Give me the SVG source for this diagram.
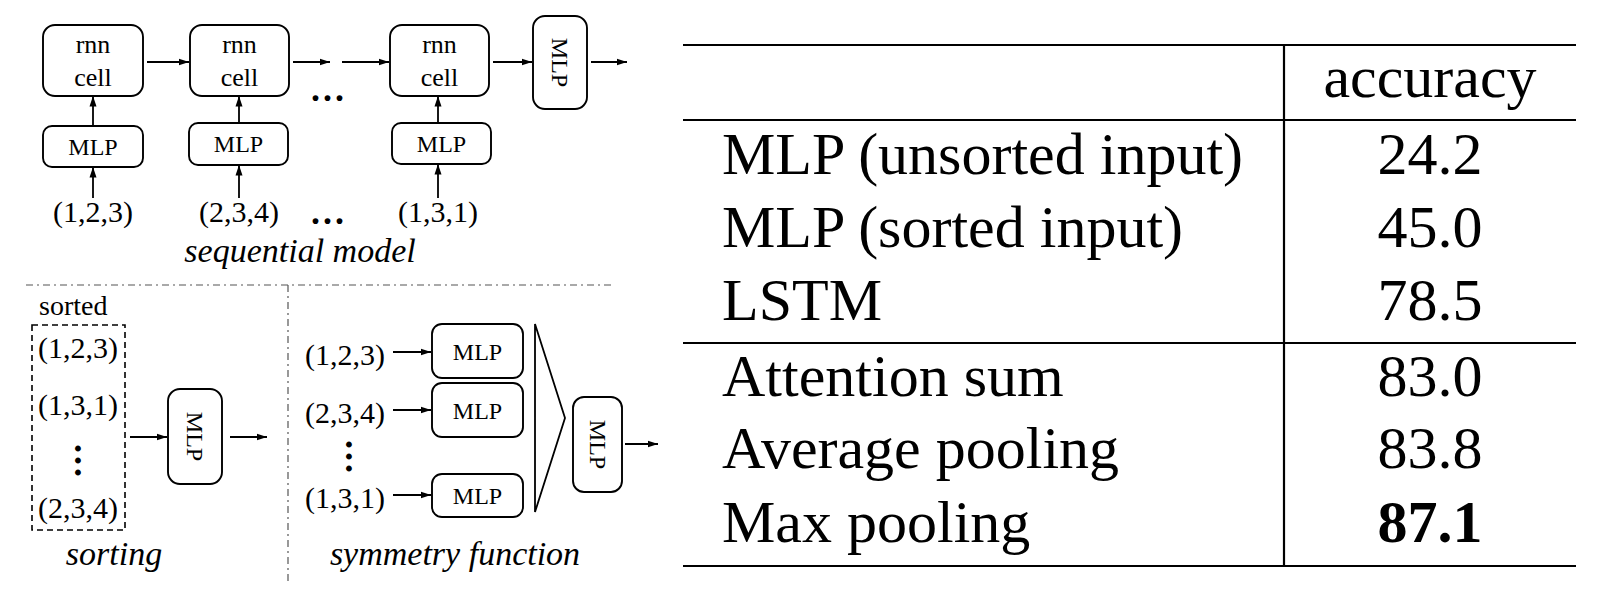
<svg xmlns="http://www.w3.org/2000/svg" width="1604" height="593" viewBox="0 0 1604 593">
<defs>
<marker id="ah" markerUnits="userSpaceOnUse" markerWidth="11" markerHeight="8" refX="10.5" refY="4" orient="auto">
<path d="M0,0.5 L10.5,4 L0,7.5 z" fill="#000"/>
</marker>
</defs>
<style>
.bx{fill:#fff;stroke:#000;stroke-width:1.9}
.t{font-family:"Liberation Serif","Times New Roman",serif;fill:#000}
.m{font-size:24px}
.r{font-size:26px}
.in{font-size:30px}
.cap{font-size:34px;font-style:italic}
.dots{font-size:36px;font-weight:bold;letter-spacing:3px}
.tb{font-size:60px}
.ar{stroke:#000;stroke-width:1.8;fill:none;marker-end:url(#ah)}
.sep{stroke:#555;stroke-width:1.2;fill:none;stroke-dasharray:7 4 2 4}
.rule{stroke:#000;stroke-width:2.2}
</style>
<rect width="1604" height="593" fill="#fff"/>

<!-- sequential model -->
<g id="rnn1"><rect class="bx" x="43" y="25" width="100" height="71" rx="12"/><text class="t r" x="93" y="53" text-anchor="middle">rnn</text><text class="t r" x="93" y="86" text-anchor="middle">cell</text></g>
<g id="rnn2"><rect class="bx" x="190" y="25" width="99" height="71" rx="12"/><text class="t r" x="239.5" y="53" text-anchor="middle">rnn</text><text class="t r" x="239.5" y="86" text-anchor="middle">cell</text></g>
<g id="rnn3"><rect class="bx" x="390" y="25" width="99" height="71" rx="12"/><text class="t r" x="439.5" y="53" text-anchor="middle">rnn</text><text class="t r" x="439.5" y="86" text-anchor="middle">cell</text></g>
<g id="mlp-top-out"><rect class="bx" x="533" y="16" width="54" height="93" rx="12"/><text class="t m" transform="translate(552,62.5) rotate(90)" text-anchor="middle">MLP</text></g>
<g id="mlp-seq1"><rect class="bx" x="43" y="126" width="100" height="41" rx="9"/><text class="t m" x="93" y="155" text-anchor="middle">MLP</text></g>
<g id="mlp-seq2"><rect class="bx" x="189" y="123" width="99" height="42" rx="9"/><text class="t m" x="238.5" y="152" text-anchor="middle">MLP</text></g>
<g id="mlp-seq3"><rect class="bx" x="392" y="123" width="99" height="41" rx="9"/><text class="t m" x="441.5" y="152" text-anchor="middle">MLP</text></g>
<g id="in-seq1"><text class="t in" x="93" y="222" text-anchor="middle">(1,2,3)</text></g>
<g id="in-seq2"><text class="t in" x="239" y="222" text-anchor="middle">(2,3,4)</text></g>
<g id="in-seq3"><text class="t in" x="438" y="222" text-anchor="middle">(1,3,1)</text></g>
<g id="seq-dots"><text class="t dots" x="311" y="101">...</text><text class="t dots" x="311" y="224">...</text></g>
<g id="cap-seq"><text class="t cap" x="300" y="262" text-anchor="middle">sequential model</text></g>

<!-- separators -->
<g id="separators">
<path class="sep" d="M26,285 H614"/>
<path class="sep" d="M288,285 V583"/>
</g>

<!-- sorting -->
<g id="sorted-box">
<text class="t" style="font-size:28px" x="39" y="315">sorted</text>
<rect x="32" y="325" width="93" height="205" fill="none" stroke="#000" stroke-width="1.6" stroke-dasharray="6 4"/>
<text class="t in" x="38" y="358">(1,2,3)</text>
<text class="t in" x="38" y="415">(1,3,1)</text>
<text class="t dots" transform="translate(74.5,444) rotate(90)">...</text>
<text class="t in" x="38" y="518">(2,3,4)</text>
</g>
<g id="mlp-sort"><rect class="bx" x="168" y="389" width="54" height="95" rx="12"/><text class="t m" transform="translate(187,436.5) rotate(90)" text-anchor="middle">MLP</text></g>
<g id="cap-sort"><text class="t cap" x="114" y="565" text-anchor="middle">sorting</text></g>

<!-- symmetry -->
<g id="in-sym"><text class="t in" x="345" y="365" text-anchor="middle">(1,2,3)</text><text class="t in" x="345" y="423" text-anchor="middle">(2,3,4)</text><text class="t dots" transform="translate(345.5,440) rotate(90)">...</text><text class="t in" x="345" y="508" text-anchor="middle">(1,3,1)</text></g>
<g id="mlp-sym1"><rect class="bx" x="432" y="324" width="91" height="54" rx="10"/><text class="t m" x="477.5" y="360" text-anchor="middle">MLP</text></g>
<g id="mlp-sym2"><rect class="bx" x="432" y="383" width="91" height="54" rx="10"/><text class="t m" x="477.5" y="419" text-anchor="middle">MLP</text></g>
<g id="mlp-sym3"><rect class="bx" x="432" y="474" width="91" height="43" rx="10"/><text class="t m" x="477.5" y="504" text-anchor="middle">MLP</text></g>
<g id="pool"><path d="M535,324 L565,418 L535,512 Z" fill="none" stroke="#000" stroke-width="1.8" stroke-linejoin="miter"/></g>
<g id="mlp-sym-out"><rect class="bx" x="573" y="397" width="49" height="95" rx="11"/><text class="t m" transform="translate(589.5,444.5) rotate(90)" text-anchor="middle">MLP</text></g>
<g id="cap-sym"><text class="t cap" x="455" y="565" text-anchor="middle">symmetry function</text></g>

<!-- connectors -->
<g id="connectors">
<path class="ar" d="M147,62 H189"/>
<path class="ar" d="M293,62 H330"/>
<path class="ar" d="M342,62 H389"/>
<path class="ar" d="M493,62 H532"/>
<path class="ar" d="M591,62 H627"/>
<path class="ar" d="M93,126 V96"/>
<path class="ar" d="M93,198 V167"/>
<path class="ar" d="M239,123 V96"/>
<path class="ar" d="M239,198 V165"/>
<path class="ar" d="M438,123 V96"/>
<path class="ar" d="M438,198 V164"/>
<path class="ar" d="M130,437 H167"/>
<path class="ar" d="M230,437 H267"/>
<path class="ar" d="M393,352 H431"/>
<path class="ar" d="M393,410 H431"/>
<path class="ar" d="M393,495 H431"/>
<path class="ar" d="M625,444 H658"/>
</g>

<!-- table -->
<g id="table">
<line class="rule" x1="683" y1="45" x2="1576" y2="45"/>
<line class="rule" x1="683" y1="120" x2="1576" y2="120"/>
<line class="rule" x1="683" y1="343" x2="1576" y2="343"/>
<line class="rule" x1="683" y1="566" x2="1576" y2="566"/>
<line class="rule" x1="1284" y1="45" x2="1284" y2="566"/>
<text class="t tb" x="1430" y="97" text-anchor="middle">accuracy</text>
<text class="t tb" x="722" y="174">MLP (unsorted input)</text>
<text class="t tb" x="722" y="247">MLP (sorted input)</text>
<text class="t tb" x="722" y="320">LSTM</text>
<text class="t tb" x="722" y="396">Attention sum</text>
<text class="t tb" x="722" y="468">Average pooling</text>
<text class="t tb" x="722" y="542">Max pooling</text>
<text class="t tb" x="1430" y="174" text-anchor="middle">24.2</text>
<text class="t tb" x="1430" y="247" text-anchor="middle">45.0</text>
<text class="t tb" x="1430" y="320" text-anchor="middle">78.5</text>
<text class="t tb" x="1430" y="396" text-anchor="middle">83.0</text>
<text class="t tb" x="1430" y="468" text-anchor="middle">83.8</text>
<text class="t tb" x="1430" y="542" text-anchor="middle" font-weight="bold">87.1</text>
</g>
</svg>
